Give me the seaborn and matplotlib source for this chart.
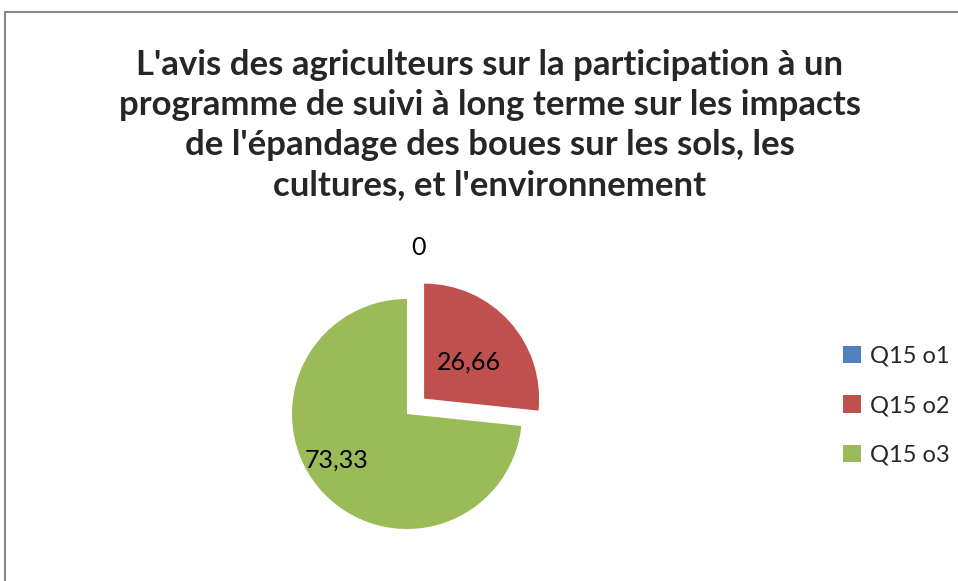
import numpy as np
import matplotlib
matplotlib.use("Agg")
import matplotlib.pyplot as plt
import seaborn as sns
from matplotlib.patches import Rectangle

### DATA
categories = ["Q15 o1", "Q15 o2", "Q15 o3"]
values = [0, 26.66, 73.33]
value_labels = ["0", "26,66", "73,33"]
title = ("L'avis des agriculteurs sur la participation à un\n"
         "programme de suivi à long terme sur les impacts\n"
         "de l'épandage des boues sur les sols, les\n"
         "cultures, et l'environnement")

sns.set_theme(style="white")
plt.rcParams['font.family'] = ['Lato', 'DejaVu Sans']
colors = sns.color_palette(["#4F81BD", "#C0504D", "#9BBB59"])

W, H = 958, 581
fig = plt.figure(figsize=(W / 100, H / 100), dpi=100)

# pie axes: 1 data unit = 115 px, centre at (407, 414) from top-left
r = 115
cx, cy = 407, H - 414
x0, x1, y0, y1 = -1.6, 1.6, -1.4, 1.6
ax = fig.add_axes([(cx + x0 * r) / W, (cy + y0 * r) / H,
                   (x1 - x0) * r / W, (y1 - y0) * r / H])

wedges, _ = ax.pie(values, colors=colors, startangle=90, counterclock=False,
                   explode=[0, 0.2, 0], radius=1,
                   wedgeprops=dict(linewidth=0))
ax.set_xlim(x0, x1)
ax.set_ylim(y0, y1)

# data labels
label_pos = [(0.10, 1.45), None, (-0.61, -0.40)]
for w, lab, pos in zip(wedges, value_labels, label_pos):
    if pos is None:
        mid = np.deg2rad((w.theta1 + w.theta2) / 2)
        cxw, cyw = w.center
        pos = (cxw + 0.53 * np.cos(mid), cyw + 0.47 * np.sin(mid))
    ax.text(pos[0], pos[1], lab, ha="center", va="center", fontsize=18,
            color="black")

fig.text(490 / W, 1 - 125 / H, title, ha="center", va="center", fontsize=25,
         fontweight="bold", linespacing=1.3)

fig.legend(wedges, categories, loc="upper left",
           bbox_to_anchor=(831 / W, 1 - 334 / H), frameon=False,
           fontsize=17, handlelength=0.75, handleheight=0.75,
           handletextpad=0.4, labelspacing=1.2, borderpad=0)

# chart border
fig.patches.append(Rectangle((5 / W, -0.1), 1.2, 1 - 12 / H + 0.1,
                             transform=fig.transFigure, fill=False,
                             edgecolor="#868686", linewidth=1.5))

fig.savefig("out.png", dpi=100)
